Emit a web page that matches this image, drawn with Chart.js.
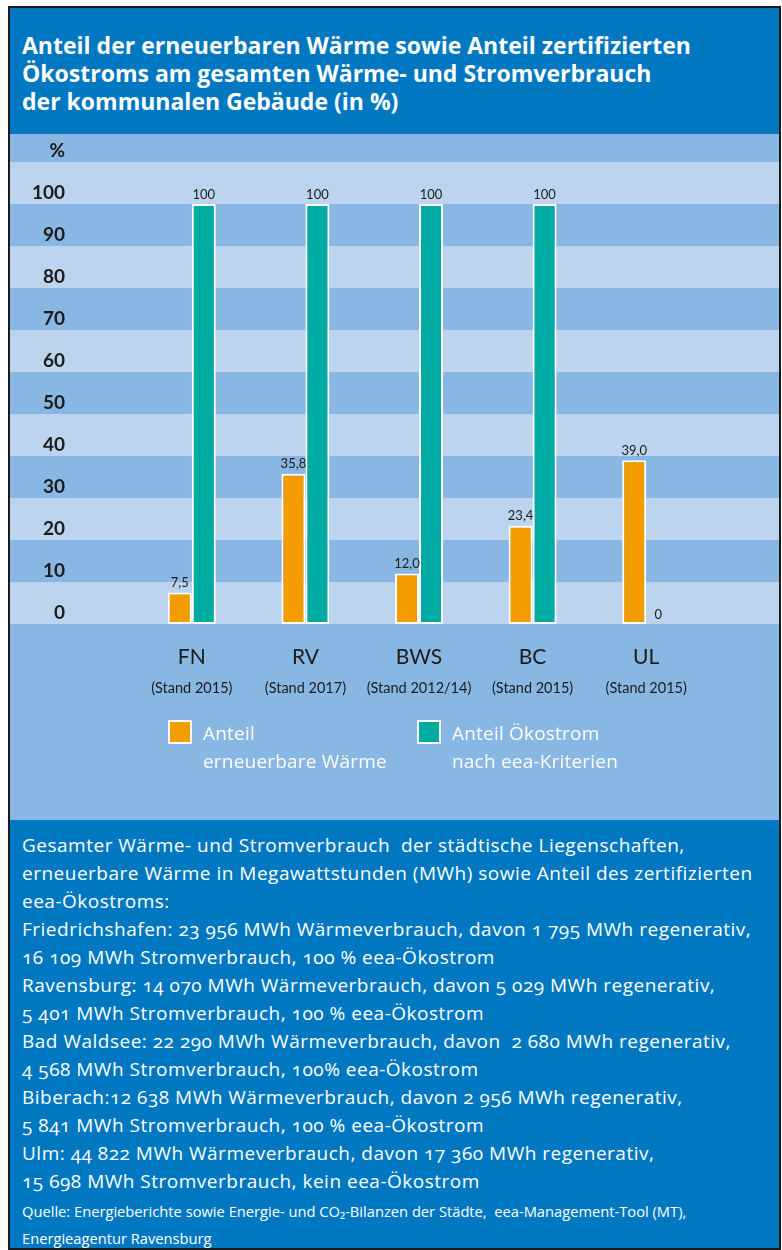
<!DOCTYPE html>
<html>
<head>
<meta charset="utf-8">
<script src="https://cdn.jsdelivr.net/npm/chart.js@4.4.1/dist/chart.umd.min.js"></script>
<style>
    body { margin: 0; background: #fff; font-family: "Open Sans", Lato, sans-serif; }
    #frame { position: absolute; left: 8px; top: 6px; width: 769px; height: 1240px; border: 2px solid #1b1b1b; background: #0078c1; overflow: hidden; }
    #title { position: absolute; left: 12px; top: 23px; color: #fff; font-weight: bold; font-size: 23px; line-height: 28px; white-space: pre; }
    #chartBox { position: absolute; left: 0; top: 126px; width: 769px; height: 686px; }
    .lg-box { position: absolute; width: 24px; height: 24px; box-sizing: border-box; border: 2px solid #fff; }
    .lg-text { position: absolute; color: #fff; font-size: 19px; line-height: 28px; white-space: pre; letter-spacing: 0.2px; }
    #notes { position: absolute; left: 12px; top: 823px; color: #fff; font-size: 19px; line-height: 28px; white-space: pre; letter-spacing: 0.5px; font-variant-numeric: oldstyle-nums; }
    #source { position: absolute; left: 12px; top: 1190px; color: #fff; font-size: 14.7px; line-height: 27px; white-space: pre; font-variant-numeric: oldstyle-nums; }
</style>
</head>
<body>
<div id="frame">
    <div id="title">Anteil der erneuerbaren Wärme sowie Anteil zertifizierten
Ökostroms am gesamten Wärme- und Stromverbrauch
der kommunalen Gebäude (in %)</div>
    <div id="chartBox"><canvas id="myChart"></canvas></div>
    <div id="legend"></div>
    <div id="notes">Gesamter Wärme- und Stromverbrauch  der städtische Liegenschaften,
erneuerbare Wärme in Megawattstunden (MWh) sowie Anteil des zertifizierten
eea-Ökostroms:
Friedrichshafen: 23 956 MWh Wärmeverbrauch, davon 1 795 MWh regenerativ,
16 109 MWh Stromverbrauch, 100 % eea-Ökostrom
Ravensburg: 14 070 MWh Wärmeverbrauch, davon 5 029 MWh regenerativ,
5 401 MWh Stromverbrauch, 100 % eea-Ökostrom
Bad Waldsee: 22 290 MWh Wärmeverbrauch, davon  2 680 MWh regenerativ,
4 568 MWh Stromverbrauch, 100% eea-Ökostrom
Biberach:12 638 MWh Wärmeverbrauch, davon 2 956 MWh regenerativ,
5 841 MWh Stromverbrauch, 100 % eea-Ökostrom
Ulm: 44 822 MWh Wärmeverbrauch, davon 17 360 MWh regenerativ,
15 698 MWh Stromverbrauch, kein eea-Ökostrom</div>
    <div id="source">Quelle: Energieberichte sowie Energie- und CO₂-Bilanzen der Städte,  eea-Management-Tool (MT),
Energieagentur Ravensburg</div>
</div>

<script>
const cities = ['FN', 'RV', 'BWS', 'BC', 'UL'];
const periods = ['(Stand 2015)', '(Stand 2017)', '(Stand 2012/14)', '(Stand 2015)', '(Stand 2015)'];
const waermeShare = [7.5, 35.8, 12.0, 23.4, 39.0];
const oekostromShare = [100, 100, 100, 100, 0];
const yTicks = [0, 10, 20, 30, 40, 50, 60, 70, 80, 90, 100];

const waermeLabel = ['Anteil', 'erneuerbare Wärme'];
const oekoLabel = ['Anteil Ökostrom', 'nach eea-Kriterien'];

const ORANGE = '#f39c00';
const TEAL = '#00aba4';
const BAND_LIGHT = '#bdd4ef';
const BAND_DARK = '#88b7e3';
const INK = '#1b1b1b';

// striped background, one band per 10 %
const bandsPlugin = {
    id: 'bands',
    beforeDraw(chart) {
        const ctx = chart.ctx;
        const y = chart.scales.y;
        ctx.save();
        ctx.fillStyle = BAND_DARK;
        ctx.fillRect(0, 0, chart.width, chart.height);
        ctx.fillStyle = BAND_LIGHT;
        for (let v = 0; v <= 100; v += 20) {
            const top = y.getPixelForValue(v + 10);
            const bottom = y.getPixelForValue(v);
            ctx.fillRect(0, top, chart.width, bottom - top);
        }
        ctx.restore();
    }
};

// numbers on top of the bars
const valueLabels = {
    id: 'valueLabels',
    afterDatasetsDraw(chart) {
        const ctx = chart.ctx;
        ctx.save();
        ctx.font = '13px Lato, sans-serif';
        ctx.fillStyle = INK;
        ctx.textAlign = 'center';
        ctx.textBaseline = 'bottom';
        chart.data.datasets.forEach((ds, i) => {
            chart.getDatasetMeta(i).data.forEach((bar, j) => {
                const v = ds.data[j];
                const txt = i === 0 ? v.toFixed(1).replace('.', ',') : String(v);
                ctx.fillText(txt, bar.x, bar.y - 3);
            });
        });
        ctx.restore();
    }
};

// second line under the city codes
const periodLabels = {
    id: 'periodLabels',
    afterDraw(chart) {
        const ctx = chart.ctx;
        const x = chart.scales.x;
        ctx.save();
        ctx.font = '14.5px Lato, sans-serif';
        ctx.fillStyle = INK;
        ctx.textAlign = 'center';
        ctx.textBaseline = 'middle';
        periods.forEach((p, i) => {
            ctx.fillText(p, x.getPixelForValue(i), chart.chartArea.bottom + 64);
        });
        ctx.restore();
    }
};

const chart = new Chart(document.getElementById('myChart'), {
    type: 'bar',
    data: {
        labels: cities,
        datasets: [
            {
                label: waermeLabel,
                data: waermeShare,
                backgroundColor: ORANGE,
                borderColor: '#fff',
                borderWidth: 2,
                borderSkipped: false
            },
            {
                label: oekoLabel,
                data: oekostromShare,
                backgroundColor: TEAL,
                borderColor: '#fff',
                borderWidth: c => (c.raw === 0 ? 0 : 2),
                borderSkipped: false
            }
        ]
    },
    options: {
        responsive: true,
        maintainAspectRatio: false,
        animation: false,
        categoryPercentage: 0.4225,
        barPercentage: 1.0,
        layout: { padding: { top: 28, right: 76, left: 0, bottom: 0 } },
        plugins: {
            legend: { display: false },
            tooltip: { enabled: false }
        },
        scales: {
            x: {
                grid: { display: false, drawTicks: false },
                border: { display: false },
                ticks: {
                    color: INK,
                    padding: 21,
                    font: { family: 'Lato', size: 21 }
                },
                afterFit(scale) { scale.height = 196; }
            },
            y: {
                min: 0,
                max: 110,
                grid: { display: false, drawTicks: false },
                border: { display: false },
                afterBuildTicks(scale) {
                    scale.ticks = yTicks.concat([110]).map(v => ({ value: v }));
                },
                ticks: {
                    color: INK,
                    padding: 70,
                    labelOffset: -11,
                    font: { family: 'Lato', size: 19, weight: 'bold' },
                    callback: v => (v === 110 ? '%' : v)
                },
                afterFit(scale) {
                    scale.width = 125;
                    // the big tick padding should not push the plot down
                    scale.paddingTop = 0;
                    scale.paddingBottom = 0;
                }
            }
        }
    },
    plugins: [bandsPlugin, valueLabels, periodLabels]
});

// legend below the chart, built from the datasets
const legend = document.getElementById('legend');
const legendPos = [158, 407];
chart.data.datasets.forEach((ds, i) => {
    const box = document.createElement('div');
    box.className = 'lg-box';
    box.style.left = legendPos[i] + 'px';
    box.style.top = '712px';
    box.style.background = ds.backgroundColor;
    legend.appendChild(box);
    const txt = document.createElement('div');
    txt.className = 'lg-text';
    txt.style.left = (legendPos[i] + 35) + 'px';
    txt.style.top = '711px';
    txt.textContent = ds.label.join('\n');
    legend.appendChild(txt);
});
</script>
</body>
</html>
